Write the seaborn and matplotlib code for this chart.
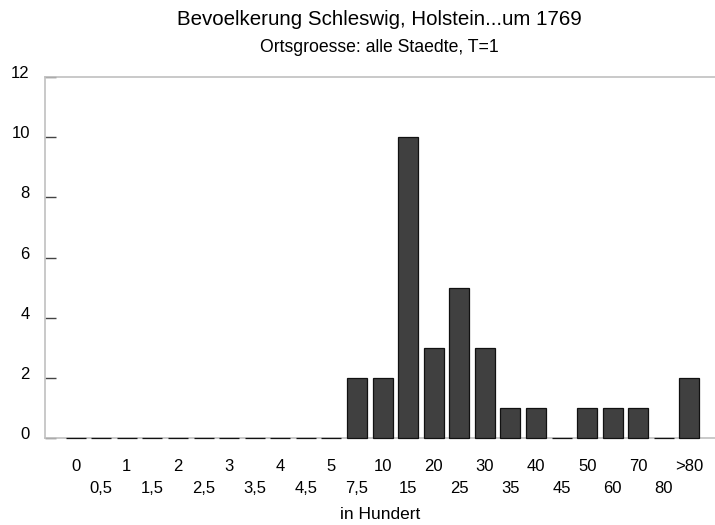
import matplotlib
matplotlib.use("Agg")
import matplotlib.pyplot as plt
import matplotlib.transforms as mtransforms
import seaborn as sns

# Size classes (in hundreds) and number of towns
groessen = ["0", "0,5", "1", "1,5", "2", "2,5", "3", "3,5", "4", "4,5", "5",
            "7,5", "10", "15", "20", "25", "30", "35", "40", "45", "50",
            "60", "70", "80", ">80"]
anzahl = [0, 0, 0, 0, 0, 0, 0, 0, 0, 0, 0,
          2, 2, 10, 3, 5, 3, 1, 1, 0, 1, 1, 1, 0, 2]
y_ticks = [0, 2, 4, 6, 8, 10, 12]

sns.set_style("white")
plt.rcParams["font.family"] = ["Liberation Sans", "DejaVu Sans"]
plt.rcParams["text.color"] = "black"
plt.rcParams["xtick.color"] = "black"
plt.rcParams["ytick.color"] = "black"
plt.rcParams["axes.labelcolor"] = "black"

fig = plt.figure(figsize=(7.15, 5.25), dpi=100)
ax = fig.add_axes([0.063, 0.166, 0.937, 0.687])

sns.barplot(x=groessen, y=anzahl, color="#404040", saturation=1,
            width=0.78, edgecolor="#111111", linewidth=0.9, ax=ax)
for bar in ax.patches:
    bar.set_zorder(3)
    bar.set_clip_on(False)

ax.set_xlim(-1.2, 25.0)
ax.set_ylim(0, 12)
ax.set_yticks(y_ticks)
ax.set_yticklabels([str(t) for t in y_ticks], fontsize=12)

# two-row x labels: alternate categories drop to second line
labels = [g if i % 2 == 0 else "\n" + g for i, g in enumerate(groessen)]
ax.set_xticks(range(len(groessen)))
ax.set_xticklabels(labels, fontsize=12, linespacing=1.55)
ax.tick_params(axis="x", length=0, pad=15.5)
ax.tick_params(axis="y", left=True, direction="in", length=8, width=1,
               color="#444444", pad=11)

# y labels sit a little above their tick marks
shift = mtransforms.ScaledTranslation(0, 5 / 100, fig.dpi_scale_trans)
for lbl in ax.get_yticklabels():
    lbl.set_transform(lbl.get_transform() + shift)

ax.set_xlabel("in Hundert", fontsize=12.5, labelpad=8)
ax.set_ylabel("")

for side in ["left", "top", "bottom"]:
    ax.spines[side].set_visible(True)
    ax.spines[side].set_color("#c0c0c0")
    ax.spines[side].set_linewidth(1.2)
    ax.spines[side].set_zorder(1)
ax.spines["right"].set_visible(False)

fig.text(0.531, 0.962, "Bevoelkerung Schleswig, Holstein...um 1769",
         ha="center", va="center", fontsize=14.8)
fig.text(0.531, 0.91, "Ortsgroesse: alle Staedte, T=1",
         ha="center", va="center", fontsize=12.7)

fig.savefig("out.png", dpi=100)
